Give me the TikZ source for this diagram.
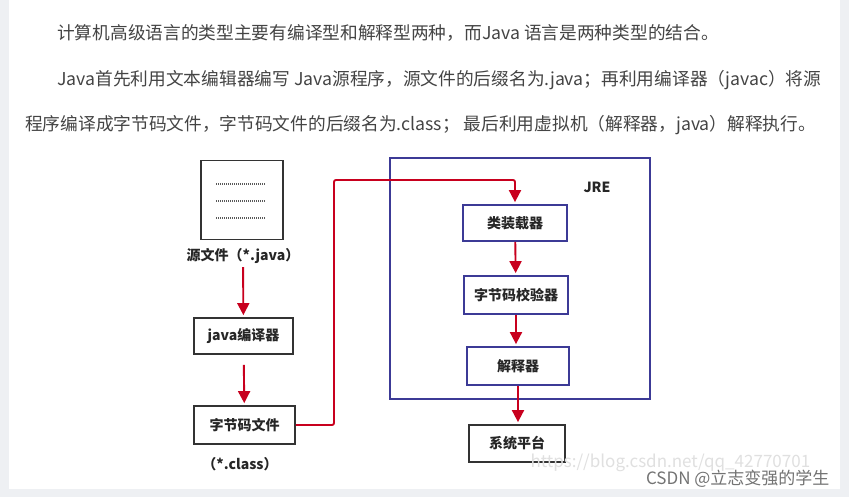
\documentclass[tikz,border=0pt]{standalone}
\usepackage{fontspec}
\setmainfont{Noto Sans CJK SC}
\usetikzlibrary{arrows.meta}
\definecolor{pagegray}{HTML}{EEF0F3}
\definecolor{textgray}{HTML}{444444}
\definecolor{arrowred}{HTML}{C8001E}
\definecolor{jreblue}{HTML}{3C3A96}

\begin{document}
\begin{tikzpicture}[
        x=1pt, y=-1pt,
        block/.style={
          draw=black!80,
          line width=1.8pt,
          fill=white,
          inner sep=0pt,
          text=black!85,
          font=\fontsize{14}{16}\selectfont\bfseries
        },
        jreblock/.style={block, draw=jreblue},
        caption/.style={text=black!85, font=\fontsize{14}{16}\selectfont\bfseries},
        para/.style={anchor=west, inner sep=0pt, text=textgray, font=\fontsize{17.7}{20}\selectfont},
        flow/.style={draw=arrowred, line width=1.9pt, shorten >=2pt,
          -{Triangle[width=12pt,length=12pt]}}
      ]
      \fill[pagegray] (0,0) rectangle (849,497);
      \fill[white] (9,0) rectangle (840,489);
      \useasboundingbox (0,0) rectangle (849,497);

      \node[para] (line1) at (57,33)
        {计算机高级语言的类型主要有编译型和解释型两种，而Java 语言是两种类型的结合。};
      \node[para] (line2) at (57,80)
        {Java首先利用文本编辑器编写 Java源程序，源文件的后缀名为.java；再利用编译器（javac）将源};
      \node[para] (line3) at (25,125)
        {程序编译成字节码文件，字节码文件的后缀名为.class； 最后利用虚拟机（解释器，java）解释执行。};

      \node[draw=jreblue, line width=1.5pt, minimum width=260pt, minimum height=241pt] (jre) at (520,278.5) {};
      \node[text=black!85, font=\fontsize{14}{16}\selectfont\bfseries] (jrelabel) at (597,187) {JRE};

      \node[block, minimum width=82pt, minimum height=79pt] (srcfile) at (242,200) {};
      \foreach \y in {184,201,218}
        \draw[black!65, line width=1.2pt, dash pattern=on 1pt off 1pt] (216,\y) -- (265,\y);
      \node[caption] (srccap) at (243,256) {源文件（*.java）};
      \node[block, minimum width=99pt, minimum height=36pt] (javac) at (243.5,336) {java编译器};
      \node[block, minimum width=101pt, minimum height=38pt] (bytecode) at (244.5,425) {字节码文件};
      \node[caption] (classcap) at (240,464) {（*.class）};

      \node[jreblock, minimum width=104pt, minimum height=36pt] (loader) at (515,223) {类装载器};
      \node[jreblock, minimum width=104pt, minimum height=38pt] (verifier) at (516,295) {字节码校验器};
      \node[jreblock, minimum width=102pt, minimum height=38pt] (interp) at (518,366) {解释器};
      \node[block, minimum width=96pt, minimum height=37pt] (platform) at (517,443.5) {系统平台};

      \draw[flow] (srccap) -- (javac);
      \draw[flow, shorten <=10pt] (javac) -- (bytecode);
      \coordinate (bend) at (334,180);
      \draw[flow, rounded corners=2pt] (bytecode.east) -| (bend) -| (loader.north);
      \draw[flow] (loader) -- (verifier);
      \draw[flow] (verifier.south) -- (verifier.south |- interp.north);
      \draw[flow] (interp.south) -- (interp.south |- platform.north);

      \node[anchor=west, text=black!12, font=\fontsize{17}{19}\selectfont] (url) at (527,463)
        {https://blog.csdn.net/qq\_42770701};
      \node[anchor=east, text=black!55, font=\fontsize{17}{19}\selectfont] (mark) at (833,479)
        {CSDN @立志变强的学生};
    \end{tikzpicture}
\end{document}
